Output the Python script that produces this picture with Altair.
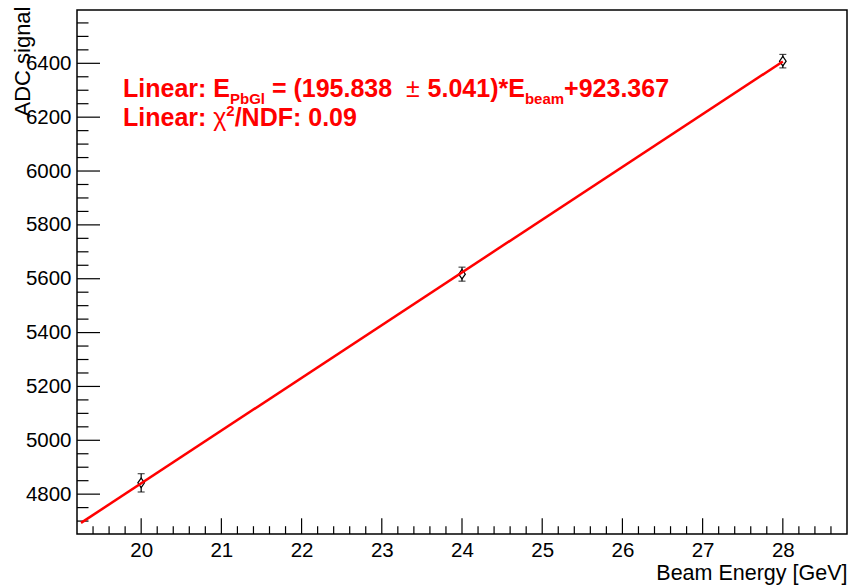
import altair as alt
import pandas as pd

# PbGl calorimeter response to the test beam
beam_energy = [20, 24, 28]          # GeV
adc_signal = [4842, 5617, 6408]     # mean ADC
adc_error = [34, 26, 25]            # uncertainty on the mean

# Linear fit result
fit_slope = 195.838
fit_slope_err = 5.041
fit_intercept = 923.367
fit_chi2_ndf = 0.09
fit_range = [19.25, 28.0]

# Axis ticks
x_major = list(range(20, 29))
x_minor = [round(19.4 + 0.2 * i, 1) for i in range(47)]
x_minor = [v for v in x_minor if abs(v - round(v)) > 1e-6]
y_major = list(range(4800, 6401, 200))
y_minor = [v for v in range(4700, 6551, 50) if v % 200]

W, H = 770, 524
FONT = "Liberation Sans"

xs = alt.Scale(domain=[19.2, 28.8], nice=False, zero=False)
ys = alt.Scale(domain=[4652, 6598], nice=False, zero=False)

pts = pd.DataFrame({
    "energy": beam_energy,
    "adc": adc_signal,
    "lo": [a - e for a, e in zip(adc_signal, adc_error)],
    "hi": [a + e for a, e in zip(adc_signal, adc_error)],
})
fit = pd.DataFrame({
    "energy": fit_range,
    "adc": [fit_slope * e + fit_intercept for e in fit_range],
})

x_axis = alt.Axis(
    values=x_major, format="d", title="Beam Energy [GeV]",
    ticks=False, tickSize=0, domain=False, grid=False,
    labelFont=FONT, labelFontSize=20.5, labelColor="black",
    labelPadding=22, labelBaseline="alphabetic", labelFlush=False,
    labelOverlap=False,
    titleFont=FONT, titleFontSize=21.5, titleFontWeight="normal",
    titleColor="black", titleAlign="right", titleBaseline="alphabetic",
    titleX=W, titleY=45,
)
y_axis = alt.Axis(
    values=y_major, format="d", title="ADC signal",
    ticks=False, tickSize=0, domain=False, grid=False,
    labelFont=FONT, labelFontSize=20.5, labelColor="black",
    labelPadding=6, labelBaseline="middle", labelFlush=False,
    labelOverlap=False,
    titleFont=FONT, titleFontSize=22, titleFontWeight="normal",
    titleColor="black", titleAngle=270, titleAlign="right",
    titleBaseline="alphabetic", titleX=-48, titleY=-4,
)


def X(field):
    return alt.X(field, scale=xs, axis=x_axis)


def Y(field):
    return alt.Y(field, scale=ys, axis=y_axis)


# error bars
err = alt.Chart(pts).mark_rule(color="black", strokeWidth=1.2).encode(
    x=X("energy:Q"), y=Y("lo:Q"), y2="hi:Q",
)
caps = alt.Chart(pts).transform_fold(["lo", "hi"]).mark_tick(
    orient="horizontal", size=7, thickness=1.2, color="black"
).encode(x=X("energy:Q"), y=Y("value:Q"))

# open diamond markers
diamond = "M0,-1L0.7,0L0,1L-0.7,0Z"
markers = alt.Chart(pts).mark_point(
    shape=diamond, size=90, filled=True, color="white",
    stroke="black", strokeWidth=1.2, opacity=1,
).encode(x=X("energy:Q"), y=Y("adc:Q"))

# fitted line
fit_line = alt.Chart(fit).mark_line(color="#ff0000", strokeWidth=2.5).encode(
    x=X("energy:Q"), y=Y("adc:Q"),
)


# inward ticks on the left and bottom frame edges
def yticks(vals, length):
    return alt.Chart(pd.DataFrame({"v": vals})).mark_rule(
        color="black", strokeWidth=1.2
    ).encode(y=Y("v:Q"), x=alt.value(0), x2=alt.value(length))


def xticks(vals, length):
    return alt.Chart(pd.DataFrame({"v": vals})).mark_rule(
        color="black", strokeWidth=1.2
    ).encode(x=X("v:Q"), y=alt.value(H), y2=alt.value(H - length))


tick_layers = [yticks(y_major, 23), yticks(y_minor, 11.5),
               xticks(x_major, 15.7), xticks(x_minor, 7.8)]

# fit annotation, laid out piece by piece (Arial/Liberation advance widths)
BOLD_W = {" ": 278, "(": 333, ")": 333, "*": 389, "+": 584, ".": 278,
          "/": 278, ":": 333, "=": 584, "D": 722, "E": 667, "F": 611,
          "G": 778, "L": 611, "N": 722, "P": 667, "a": 556, "b": 611,
          "e": 556, "i": 278, "l": 278, "m": 889, "n": 611, "r": 389}
REG_W = {" ": 278, "±": 584, "χ": 520}


def advance(s, size, bold):
    table = BOLD_W if bold else REG_W
    return sum(table.get(c, 556) for c in s) * size / 1000.0


BIG, SMALL = 25, 15
line1 = [
    ("Linear: E", BIG, 0, True),
    ("PbGl", SMALL, 7, True),
    (" = (%.3f  " % fit_slope, BIG, 0, True),
    ("±", BIG, 0, False),
    (" %.3f)*E" % fit_slope_err, BIG, 0, True),
    ("beam", SMALL, 7, True),
    ("+%.3f" % fit_intercept, BIG, 0, True),
]
line2 = [
    ("Linear: ", BIG, 0, True),
    ("χ", BIG, 0, False),
    ("2", SMALL, -10, True),
    ("/NDF: %.2f" % fit_chi2_ndf, BIG, 0, True),
]

text_layers = []
for pieces, base in ((line1, 86.5), (line2, 115.5)):
    x = 46.0
    for s, size, dy, bold in pieces:
        lead = len(s) - len(s.lstrip(" "))
        x0 = x + advance(" " * lead, size, bold)
        text_layers.append(
            alt.Chart(pd.DataFrame({"t": [s.strip()]})).mark_text(
                align="left", baseline="alphabetic", font=FONT,
                fontSize=size, fontWeight="bold" if bold else "normal",
                color="#ff0000",
            ).encode(x=alt.value(x0), y=alt.value(base + dy), text="t:N")
        )
        x += advance(s, size, bold)

chart = alt.layer(
    err, caps, *tick_layers, markers, fit_line, *text_layers
).properties(
    width=W, height=H,
    autosize=alt.AutoSizeParams(type="none"),
    padding={"left": 77, "top": 10, "right": 4, "bottom": 54},
    background="white",
).configure_view(stroke="black", strokeWidth=1.5)

chart.save("out.html", embed_options={"renderer": "svg", "actions": False})
